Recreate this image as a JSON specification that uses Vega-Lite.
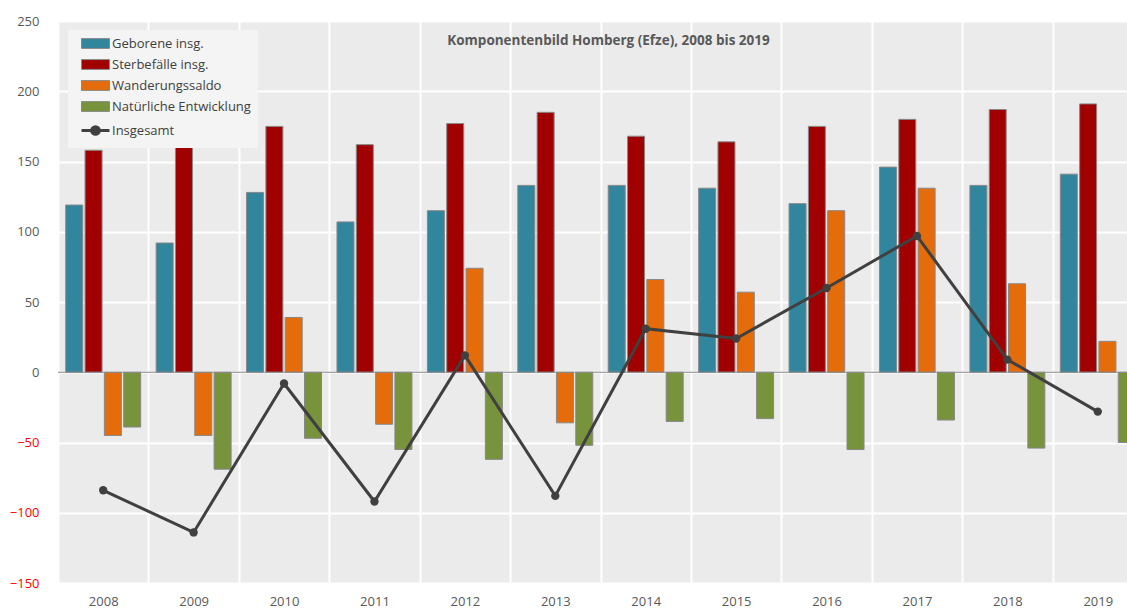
{
  "$schema": "https://vega.github.io/schema/vega-lite/v6.json",
  "autosize": {"type": "none"},
  "padding": {"left": 58, "top": 21, "right": 0, "bottom": 27},
  "width": 1085,
  "height": 562,
  "background": "white",
  "config": {
    "font": "Open Sans",
    "view": {"fill": "#ebebeb", "stroke": null},
    "axis": {"labelFont": "Open Sans", "labelFontSize": 13, "labelColor": "#595959", "domain": false, "ticks": false}
  },
  "title": {
    "text": "Komponentenbild Homberg (Efze), 2008 bis 2019",
    "fontSize": 13.5,
    "fontWeight": "bold",
    "color": "#595959",
    "anchor": "middle",
    "offset": -32,
    "dx": 8
  },
  "datasets": {
    "bars": [
      {"Jahr": "2008", "Reihe": "Geborene insg.", "Wert": 119},
      {"Jahr": "2008", "Reihe": "Sterbefälle insg.", "Wert": 158},
      {"Jahr": "2008", "Reihe": "Wanderungssaldo", "Wert": -45},
      {"Jahr": "2008", "Reihe": "Natürliche Entwicklung", "Wert": -39},
      {"Jahr": "2009", "Reihe": "Geborene insg.", "Wert": 92},
      {"Jahr": "2009", "Reihe": "Sterbefälle insg.", "Wert": 161},
      {"Jahr": "2009", "Reihe": "Wanderungssaldo", "Wert": -45},
      {"Jahr": "2009", "Reihe": "Natürliche Entwicklung", "Wert": -69},
      {"Jahr": "2010", "Reihe": "Geborene insg.", "Wert": 128},
      {"Jahr": "2010", "Reihe": "Sterbefälle insg.", "Wert": 175},
      {"Jahr": "2010", "Reihe": "Wanderungssaldo", "Wert": 39},
      {"Jahr": "2010", "Reihe": "Natürliche Entwicklung", "Wert": -47},
      {"Jahr": "2011", "Reihe": "Geborene insg.", "Wert": 107},
      {"Jahr": "2011", "Reihe": "Sterbefälle insg.", "Wert": 162},
      {"Jahr": "2011", "Reihe": "Wanderungssaldo", "Wert": -37},
      {"Jahr": "2011", "Reihe": "Natürliche Entwicklung", "Wert": -55},
      {"Jahr": "2012", "Reihe": "Geborene insg.", "Wert": 115},
      {"Jahr": "2012", "Reihe": "Sterbefälle insg.", "Wert": 177},
      {"Jahr": "2012", "Reihe": "Wanderungssaldo", "Wert": 74},
      {"Jahr": "2012", "Reihe": "Natürliche Entwicklung", "Wert": -62},
      {"Jahr": "2013", "Reihe": "Geborene insg.", "Wert": 133},
      {"Jahr": "2013", "Reihe": "Sterbefälle insg.", "Wert": 185},
      {"Jahr": "2013", "Reihe": "Wanderungssaldo", "Wert": -36},
      {"Jahr": "2013", "Reihe": "Natürliche Entwicklung", "Wert": -52},
      {"Jahr": "2014", "Reihe": "Geborene insg.", "Wert": 133},
      {"Jahr": "2014", "Reihe": "Sterbefälle insg.", "Wert": 168},
      {"Jahr": "2014", "Reihe": "Wanderungssaldo", "Wert": 66},
      {"Jahr": "2014", "Reihe": "Natürliche Entwicklung", "Wert": -35},
      {"Jahr": "2015", "Reihe": "Geborene insg.", "Wert": 131},
      {"Jahr": "2015", "Reihe": "Sterbefälle insg.", "Wert": 164},
      {"Jahr": "2015", "Reihe": "Wanderungssaldo", "Wert": 57},
      {"Jahr": "2015", "Reihe": "Natürliche Entwicklung", "Wert": -33},
      {"Jahr": "2016", "Reihe": "Geborene insg.", "Wert": 120},
      {"Jahr": "2016", "Reihe": "Sterbefälle insg.", "Wert": 175},
      {"Jahr": "2016", "Reihe": "Wanderungssaldo", "Wert": 115},
      {"Jahr": "2016", "Reihe": "Natürliche Entwicklung", "Wert": -55},
      {"Jahr": "2017", "Reihe": "Geborene insg.", "Wert": 146},
      {"Jahr": "2017", "Reihe": "Sterbefälle insg.", "Wert": 180},
      {"Jahr": "2017", "Reihe": "Wanderungssaldo", "Wert": 131},
      {"Jahr": "2017", "Reihe": "Natürliche Entwicklung", "Wert": -34},
      {"Jahr": "2018", "Reihe": "Geborene insg.", "Wert": 133},
      {"Jahr": "2018", "Reihe": "Sterbefälle insg.", "Wert": 187},
      {"Jahr": "2018", "Reihe": "Wanderungssaldo", "Wert": 63},
      {"Jahr": "2018", "Reihe": "Natürliche Entwicklung", "Wert": -54},
      {"Jahr": "2019", "Reihe": "Geborene insg.", "Wert": 141},
      {"Jahr": "2019", "Reihe": "Sterbefälle insg.", "Wert": 191},
      {"Jahr": "2019", "Reihe": "Wanderungssaldo", "Wert": 22},
      {"Jahr": "2019", "Reihe": "Natürliche Entwicklung", "Wert": -50}
    ],
    "totals": [
      {"Jahr": "2008", "Insgesamt": -84},
      {"Jahr": "2009", "Insgesamt": -114},
      {"Jahr": "2010", "Insgesamt": -8},
      {"Jahr": "2011", "Insgesamt": -92},
      {"Jahr": "2012", "Insgesamt": 12},
      {"Jahr": "2013", "Insgesamt": -88},
      {"Jahr": "2014", "Insgesamt": 31},
      {"Jahr": "2015", "Insgesamt": 24},
      {"Jahr": "2016", "Insgesamt": 60},
      {"Jahr": "2017", "Insgesamt": 97},
      {"Jahr": "2018", "Insgesamt": 9},
      {"Jahr": "2019", "Insgesamt": -28}
    ]
  },
  "layer": [
    {
      "data": {"name": "bars"},
      "mark": {"type": "bar", "stroke": "#888888", "strokeWidth": 1},
      "encoding": {
        "x": {
          "field": "Jahr", "type": "nominal", "title": null,
          "scale": {"paddingInner": 0, "paddingOuter": 0},
          "axis": {"labelAngle": 0, "labelPadding": 12, "grid": true, "gridColor": "white", "gridWidth": 2, "tickBand": "extent"}
        },
        "xOffset": {
          "field": "Reihe", "type": "nominal",
          "sort": ["Geborene insg.", "Sterbefälle insg.", "Wanderungssaldo", "Natürliche Entwicklung"],
          "scale": {"paddingInner": 0.12, "paddingOuter": 0.4}
        },
        "y": {
          "field": "Wert", "type": "quantitative", "title": null,
          "scale": {"domain": [-150, 250], "nice": false, "zero": false},
          "axis": {
            "values": [-150, -100, -50, 0, 50, 100, 150, 200, 250],
            "labelPadding": 19,
            "gridColor": "white", "gridWidth": 2,
            "labelColor": {"expr": "datum.value < 0 ? '#ff0000' : '#595959'"}
          }
        },
        "color": {
          "field": "Reihe", "type": "nominal",
          "scale": {
            "domain": ["Geborene insg.", "Sterbefälle insg.", "Wanderungssaldo", "Natürliche Entwicklung", "Insgesamt"],
            "range": ["#31859c", "#a00000", "#e46c0a", "#77933c", "#404040"]
          },
          "legend": {
            "title": null,
            "orient": "none",
            "legendX": 10,
            "legendY": 9,
            "fillColor": "#f4f4f4",
            "padding": 7,
            "labelFont": "Open Sans",
            "labelFontSize": 13,
            "labelColor": "#404040",
            "symbolSize": 196,
            "symbolOffset": 14,
            "labelOffset": 10,
            "rowPadding": 6,
            "symbolOpacity": 1,
            "symbolType": {"expr": "datum.value === 'Insgesamt' ? 'M-2,0H2M0.55,0A0.55,0.55 0 1,1 -0.55,0A0.55,0.55 0 1,1 0.55,0' : 'M-2,-0.7H2V0.7H-2Z'"},
            "symbolStrokeColor": {"expr": "datum.value === 'Insgesamt' ? '#404040' : '#888888'"},
            "symbolStrokeWidth": {"expr": "datum.value === 'Insgesamt' ? 3 : 1"}
          }
        }
      }
    },
    {
      "data": {"values": [{"v": 0}]},
      "mark": {"type": "rule", "color": "#888888", "strokeWidth": 1},
      "encoding": {"y": {"datum": 0, "type": "quantitative"}}
    },
    {
      "data": {"name": "totals"},
      "mark": {"type": "line", "color": "#404040", "strokeWidth": 3, "point": {"filled": true, "size": 70, "color": "#404040"}},
      "encoding": {
        "x": {"field": "Jahr", "type": "nominal"},
        "y": {"field": "Insgesamt", "type": "quantitative"}
      }
    }
  ]
}
